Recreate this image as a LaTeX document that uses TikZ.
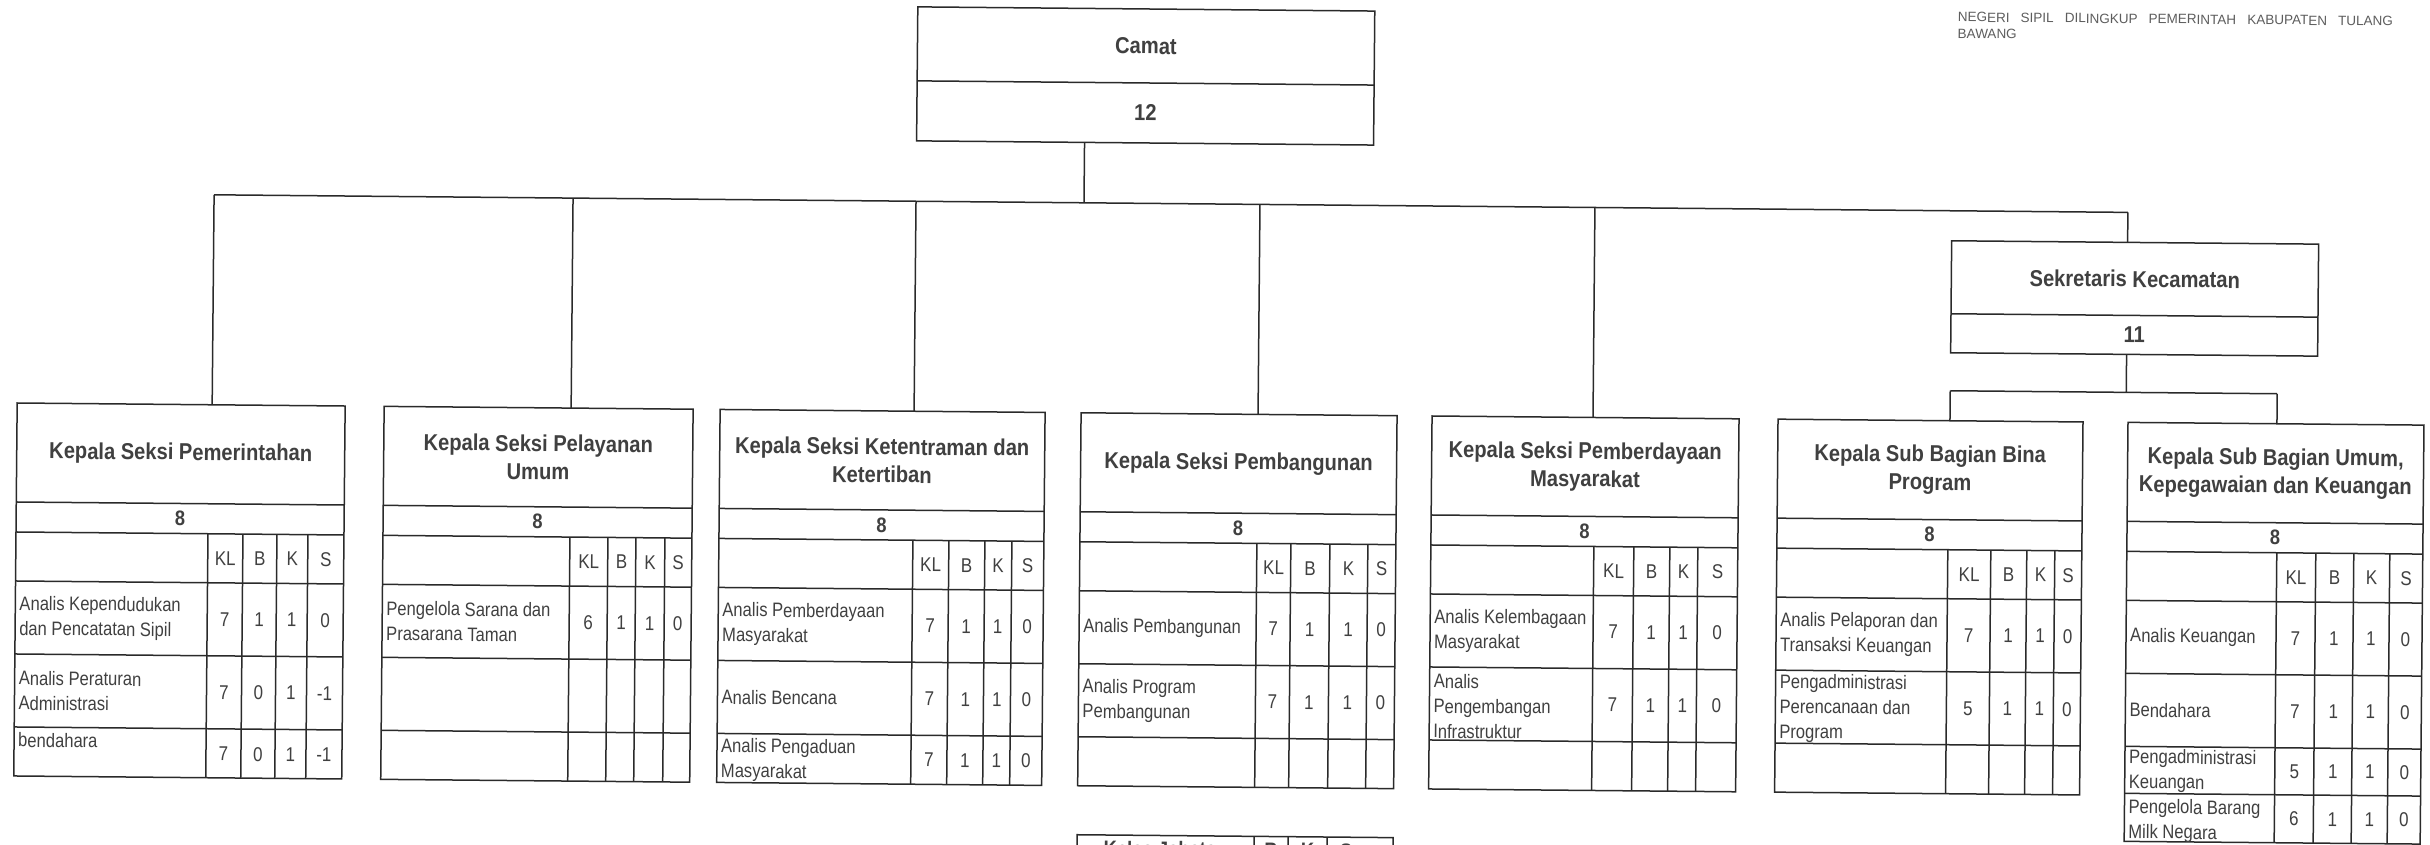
\documentclass[tikz,border=0pt]{standalone}
\usepackage{fontspec}
\setmainfont{Liberation Sans}
\newfontfamily\hfont[FakeStretch=0.875]{Liberation Sans}
\newfontfamily\cfont[FakeStretch=0.85]{Liberation Sans}
\usetikzlibrary{calc}
\definecolor{ink}{HTML}{404040}
\definecolor{ln}{HTML}{2A2A2A}
\tikzset{
  boxn/.style={draw=ln, line width=1.5pt, inner sep=0pt, outer sep=0pt, anchor=north west},
  tline/.style={draw=ln, line width=1.5pt},
  conn/.style={draw=ln, line width=1.5pt},
  head/.style={text=ink, font=\hfont\bfseries\fontsize{23}{28}\selectfont, align=center, inner sep=0pt},
  cnt/.style={text=ink, font=\hfont\bfseries\fontsize{21}{25}\selectfont, inner sep=0pt},
  cell/.style={text=ink, font=\cfont\fontsize{19.5}{25}\selectfont, align=left, inner sep=0pt, anchor=west},
  num/.style={text=ink, font=\cfont\fontsize{20}{25}\selectfont, inner sep=0pt},
  note/.style={text=ink!85, font=\fontsize{13.5}{16.5}\selectfont, inner sep=0pt, anchor=base west},
}
% #1 name, #2 L, #3 c1, #4 c2, #5 c3, #6 c4, #7 R, #8 bottom, #9 title
\newcommand\orgtable[9]{%
  \def\tL{#2}\def\tA{#3}\def\tB{#4}\def\tC{#5}\def\tD{#6}\def\tR{#7}%
  \node[boxn, minimum width={#7-#2}, minimum height={#8-414}] (#1) at (#2,414) {};
  \draw[tline] (#2,513) -- (#7,513) (#2,543) -- (#7,543) (#2,592) -- (#7,592)
     (#2,665) -- (#7,665) (#2,738) -- (#7,738);
  \draw[tline] (#3,543) -- (#3,#8) (#4,543) -- (#4,#8) (#5,543) -- (#5,#8) (#6,543) -- (#6,#8);
  \node[head] (#1-t) at ({(#2+#7)/2},463.5) {#9};
  \node[cnt] (#1-n) at ({(#2+#7)/2},528) {8};
  \node[num] (#1-hkl) at ({(#3+#4)/2},567.5) {KL};
  \node[num] (#1-hb) at ({(#4+#5)/2},567.5) {B};
  \node[num] (#1-hk) at ({(#5+#6)/2},567.5) {K};
  \node[num] (#1-hs) at ({(#6+#7)/2},567.5) {S};
}
% #1 id, #2 y text, #3 text, #4 kl, #5 b, #6 k, #7 s ; numbers at \numy
\def\numy{0}
\newcommand\trow[7]{%
  \node[cell] (#1) at (\tL+4,#2) {#3};
  \node[num] (#1-kl) at ({(\tA+\tB)/2},\numy) {#4};
  \node[num] (#1-b) at ({(\tB+\tC)/2},\numy) {#5};
  \node[num] (#1-k) at ({(\tC+\tD)/2},\numy) {#6};
  \node[num] (#1-s) at ({(\tD+\tR)/2},\numy) {#7};
}
\begin{document}
\begin{tikzpicture}[x=1pt, y=-1pt]
\useasboundingbox (0,0) rectangle (2430,845);
\clip (0,0) rectangle (2430,845);
\begin{scope}[rotate around={-0.527:(1215,422)}, transform shape]

% header note (top right)
\node[note] (note1) at (1954,15) {\makebox[435pt][s]{NEGERI SIPIL DILINGKUP PEMERINTAH KABUPATEN TULANG}};
\node[note] (note2) at (1954,31.5) {BAWANG};

% Camat
\node[boxn, minimum width=457, minimum height=134] (camat) at (914,9.6) {};
\draw[tline] (914,83.6) -- (1371,83.6);
\node[head] (camat-t) at (1142.5,46.6) {Camat};
\node[head] (camat-n) at (1142.5,113.6) {12};

% Sekretaris
\node[boxn, minimum width=367, minimum height=112] (sek) at (1950,234) {};
\draw[tline] (1950,307) -- (2317,307);
\node[head] (sek-t) at (2133.5,270.5) {Sekretaris Kecamatan};
\node[head] (sek-n) at (2133.5,326.5) {11};

% tables
\orgtable{b1}{17}{209}{244}{278}{309}{345}{787}{Kepala Seksi Pemerintahan}
\def\numy{628.5}\trow{b1r1}{628.5}{Analis Kependudukan\\dan Pencatatan Sipil}{7}{1}{1}{0}
\def\numy{701.5}\trow{b1r2}{701.5}{Analis Peraturan\\Administrasi}{7}{0}{1}{-1}
\def\numy{763}\trow{b1r3}{751}{bendahara}{7}{0}{1}{-1}

\orgtable{b2}{384}{571}{609}{637}{666}{693}{787}{Kepala Seksi Pelayanan\\Umum}
\def\numy{628.5}\trow{b2r1}{628.5}{Pengelola Sarana dan\\Prasarana Taman}{6}{1}{1}{0}

\orgtable{b3}{720}{914}{950}{986}{1013}{1045}{787}{Kepala Seksi Ketentraman dan\\Ketertiban}
\def\numy{628.5}\trow{b3r1}{628.5}{Analis Pemberdayaan\\Masyarakat}{7}{1}{1}{0}
\def\numy{701.5}\trow{b3r2}{701.5}{Analis Bencana}{7}{1}{1}{0}
\def\numy{762.5}\trow{b3r3}{764.5}{Analis Pengaduan\\Masyarakat}{7}{1}{1}{0}

\orgtable{b4}{1081}{1258}{1292}{1331}{1369}{1397}{787}{Kepala Seksi Pembangunan}
\def\numy{628.5}\trow{b4r1}{628.5}{Analis Pembangunan}{7}{1}{1}{0}
\def\numy{701.5}\trow{b4r2}{701.5}{Analis Program\\Pembangunan}{7}{1}{1}{0}

\orgtable{b5}{1432}{1595}{1635}{1671}{1699}{1739}{787}{Kepala Seksi Pemberdayaan\\Masyarakat}
\def\numy{628.5}\trow{b5r1}{628.5}{Analis Kelembagaan\\Masyarakat}{7}{1}{1}{0}
\def\numy{701.5}\trow{b5r2}{704}{Analis\\Pengembangan\\Infrastruktur}{7}{1}{1}{0}

\orgtable{b6}{1778}{1949}{1992}{2028}{2056}{2083}{787}{Kepala Sub Bagian Bina\\Program}
\def\numy{628.5}\trow{b6r1}{628.5}{Analis Pelaporan dan\\Transaksi Keuangan}{7}{1}{1}{0}
\def\numy{701.5}\trow{b6r2}{703}{Pengadministrasi\\Perencanaan dan\\Program}{5}{1}{1}{0}

\orgtable{b7}{2128}{2278}{2317}{2355}{2391}{2424}{833}{Kepala Sub Bagian Umum,\\Kepegawaian dan Keuangan}
\draw[tline] (2128,785) -- (2424,785);
\def\numy{628.5}\trow{b7r1}{628.5}{Analis Keuangan}{7}{1}{1}{0}
\def\numy{701.5}\trow{b7r2}{701.5}{Bendahara}{7}{1}{1}{0}
\def\numy{761.5}\trow{b7r3}{762.5}{Pengadministrasi\\Keuangan}{5}{1}{1}{0}
\def\numy{809}\trow{b7r4}{812.5}{Pengelola Barang\\Milk Negara}{6}{1}{1}{0}

% legend (cut off at bottom)
\node[boxn, minimum width=316, minimum height=60] (leg) at (1081,836) {};
\draw[tline] (1258,836) -- (1258,896) (1292,836) -- (1292,896) (1331,836) -- (1331,896);
\node[cnt, anchor=base] (leg-t) at (1169.5,857) {Kelas Jabatan};
\node[cnt, anchor=base] (leg-b) at (1275,857) {B};
\node[cnt, anchor=base] (leg-k) at (1311.5,857) {K};
\node[cnt, anchor=base] (leg-s) at (1350,857) {S};

% connectors
\coordinate (j0) at (1082,204);
\coordinate (j1) at (212,204);
\coordinate (j2) at (571,204);
\coordinate (j3) at (914,204);
\coordinate (j4) at (1258,204);
\coordinate (j5) at (1593,204);
\coordinate (j6) at (2126,204);
\coordinate (s0) at (2126,384);
\coordinate (s1) at (1950,384);
\coordinate (s2) at (2277,384);
\draw[conn] ($(camat.south west)!0.3676!(camat.south east)$) -- (j0);
\draw[conn] (j1) -- (j6);
\draw[conn] (j1) -- ($(b1.north west)!0.5945!(b1.north east)$);
\draw[conn] (j2) -- ($(b2.north west)!0.6052!(b2.north east)$);
\draw[conn] (j3) -- ($(b3.north west)!0.5969!(b3.north east)$);
\draw[conn] (j4) -- ($(b4.north west)!0.5601!(b4.north east)$);
\draw[conn] (j5) -- ($(b5.north west)!0.5244!(b5.north east)$);
\draw[conn] (j6) -- ($(sek.north west)!0.4796!(sek.north east)$);
\draw[conn] ($(sek.south west)!0.4796!(sek.south east)$) -- (s0);
\draw[conn] (s1) -- (s2);
\draw[conn] (s1) -- ($(b6.north west)!0.5639!(b6.north east)$);
\draw[conn] (s2) -- ($(b7.north west)!0.5034!(b7.north east)$);
\end{scope}
\end{tikzpicture}
\end{document}
